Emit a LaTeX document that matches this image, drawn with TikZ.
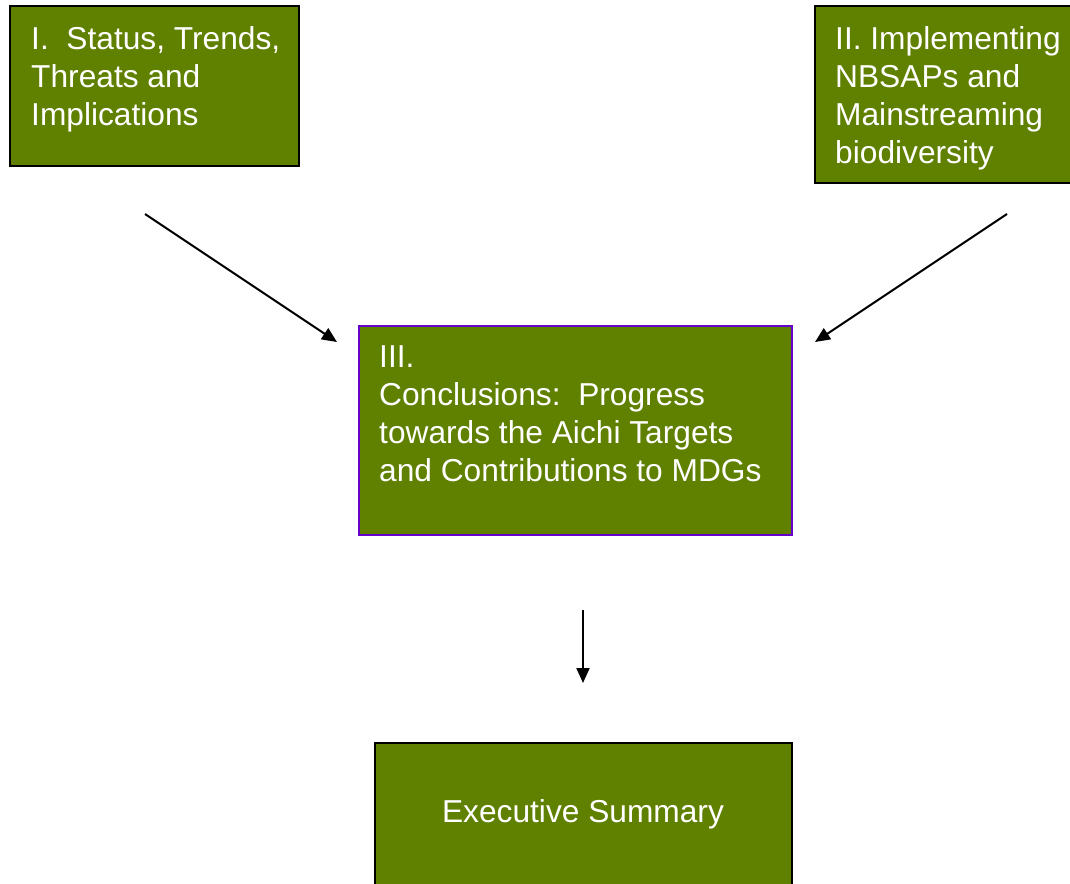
\documentclass[tikz,border=0pt]{standalone}
\usepackage{fontspec}
\setmainfont{Liberation Sans}
\usetikzlibrary{arrows.meta}
\definecolor{boxgreen}{RGB}{96,128,0}
\definecolor{boxpurple}{RGB}{102,0,204}
\begin{document}
\begin{tikzpicture}[x=1pt,y=-1pt]
\tikzset{
  box/.style={draw=black, line width=2pt, fill=boxgreen, inner sep=0pt, outer sep=0pt, anchor=north west},
  lbl/.style={text=white, font=\fontsize{31.7}{38}\selectfont, align=left, anchor=north west, inner sep=0pt},
  conn/.style={line width=2pt, -{Triangle[length=15pt,width=13pt]}}
}
\useasboundingbox (0,0) rectangle (1070,883);
\begin{scope}
\clip (0,0) rectangle (1070,883);
\node[box, minimum width=289pt, minimum height=160pt] (b1) at (10,6) {};
\node[box, minimum width=280pt, minimum height=177pt] (b2) at (815,6) {};
\node[box, draw=boxpurple, minimum width=433pt, minimum height=209pt] (b3) at (359,326) {};
\node[box, minimum width=417pt, minimum height=160pt] (b4) at (375,743) {};
\end{scope}
\node[lbl] (t1) at (31,26) {I.\ \ Status, Trends,\\Threats and\\Implications};
\node[lbl] (t2) at (835,26) {II. Implementing\\NBSAPs and\\Mainstreaming\\biodiversity};
\node[lbl] (t3) at (379,345) {III.\\Conclusions:\ \ Progress\\towards the Aichi Targets\\and Contributions to MDGs};
\node[lbl, anchor=base, align=center] (t4) at (583,822) {Executive Summary};
\coordinate (a1s) at (145,214);
\coordinate (a1e) at (337,342);
\coordinate (a2s) at (1007,214);
\coordinate (a2e) at (815,342);
\coordinate (a3s) at (583,610);
\coordinate (a3e) at (583,683);
\draw[conn] (a1s) -- (a1e);
\draw[conn] (a2s) -- (a2e);
\draw[conn] (a3s) -- (a3e);
\end{tikzpicture}
\end{document}
